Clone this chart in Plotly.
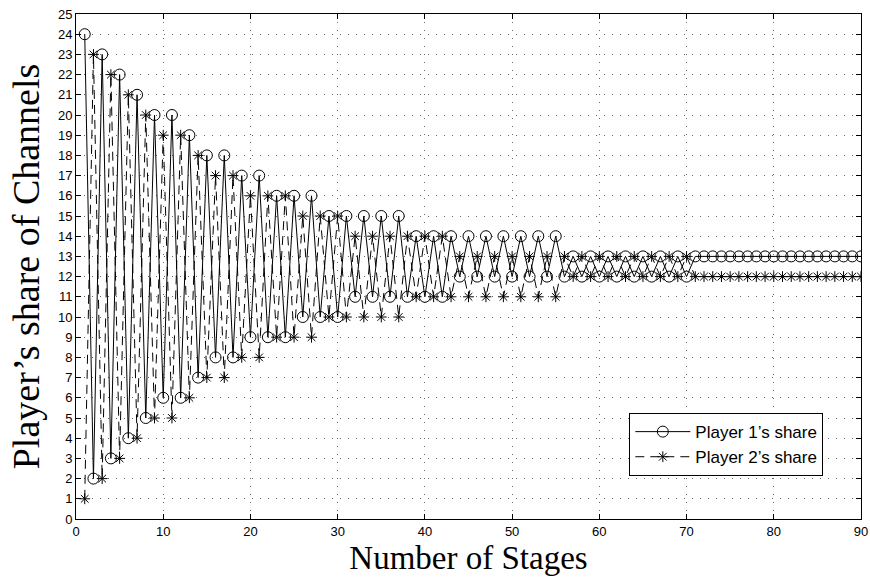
import plotly.graph_objects as go

stages = list(range(1, 91))
player1_share = [24, 2, 23, 3, 22, 4, 21, 5, 20, 6,
                 20, 6, 19, 7, 18, 8, 18, 8, 17, 9,
                 17, 9, 16, 9, 16, 10, 16, 10, 15, 10,
                 15, 11, 15, 11, 15, 11, 15, 11, 14, 11,
                 14, 11, 14, 12, 14, 12, 14, 12, 14, 12,
                 14, 12, 14, 12, 14, 12, 13, 12, 13, 12,
                 13, 12, 13, 12, 13, 12, 13, 12, 13, 12,
                 13, 13, 13, 13, 13, 13, 13, 13, 13, 13,
                 13, 13, 13, 13, 13, 13, 13, 13, 13, 13]
player2_share = [1, 23, 2, 22, 3, 21, 4, 20, 5, 19,
                 5, 19, 6, 18, 7, 17, 7, 17, 8, 16,
                 8, 16, 9, 16, 9, 15, 9, 15, 10, 15,
                 10, 14, 10, 14, 10, 14, 10, 14, 11, 14,
                 11, 14, 11, 13, 11, 13, 11, 13, 11, 13,
                 11, 13, 11, 13, 11, 13, 12, 13, 12, 13,
                 12, 13, 12, 13, 12, 13, 12, 13, 12, 13,
                 12, 12, 12, 12, 12, 12, 12, 12, 12, 12,
                 12, 12, 12, 12, 12, 12, 12, 12, 12, 12]
x_ticks = [0, 10, 20, 30, 40, 50, 60, 70, 80, 90]
y_ticks = list(range(0, 26))

fig = go.Figure()
fig.add_trace(go.Scatter(
    x=stages, y=player1_share, mode="lines+markers", name="Player 1’s share",
    line=dict(color="black", width=1),
    marker=dict(symbol="circle-open", size=11, color="black", line=dict(width=1, color="black")),
))
fig.add_trace(go.Scatter(
    x=stages, y=player2_share, mode="lines+markers", name="Player 2’s share",
    line=dict(color="black", width=1, dash="9px,6px"),
    marker=dict(symbol="asterisk-open", size=9, color="black", line=dict(width=1, color="black")),
))

axis_common = dict(
    showline=True, linecolor="black", linewidth=1, mirror="ticks",
    ticks="inside", ticklen=5, tickcolor="black",
    showgrid=True, gridcolor="rgba(0,0,0,0.6)", gridwidth=1, griddash="1px,7px",
    zeroline=False, automargin=False, ticklabeloverflow="allow",
    tickfont=dict(family="Liberation Sans, Arial", size=13, color="black"),
)

fig.update_xaxes(range=[0, 90], tickvals=x_ticks,
                 title=dict(text="Number of Stages", standoff=8,
                            font=dict(family="Liberation Serif, Times New Roman", size=33, color="black")),
                 **axis_common)
fig.update_yaxes(range=[0, 25], tickvals=y_ticks,
                 title=dict(text="Player’s share of Channels", standoff=6,
                            font=dict(family="Liberation Serif, Times New Roman", size=38, color="black")),
                 **axis_common)

fig.update_layout(
    width=870, height=579,
    margin=dict(l=76, r=9, t=14, b=60),
    paper_bgcolor="white", plot_bgcolor="white",
    legend=dict(x=0.952, y=0.085, xanchor="right", yanchor="bottom",
                bgcolor="white", bordercolor="black", borderwidth=1,
                font=dict(family="Liberation Sans, Arial", size=17, color="black"),
                itemwidth=55, tracegroupgap=0),
    showlegend=True,
)

# remove the default 8px page margin so the figure fills the window exactly
fig.write_html("out.html",
               config={"displayModeBar": False},
               post_script="document.body.style.margin='0';document.body.style.overflow='hidden';")
